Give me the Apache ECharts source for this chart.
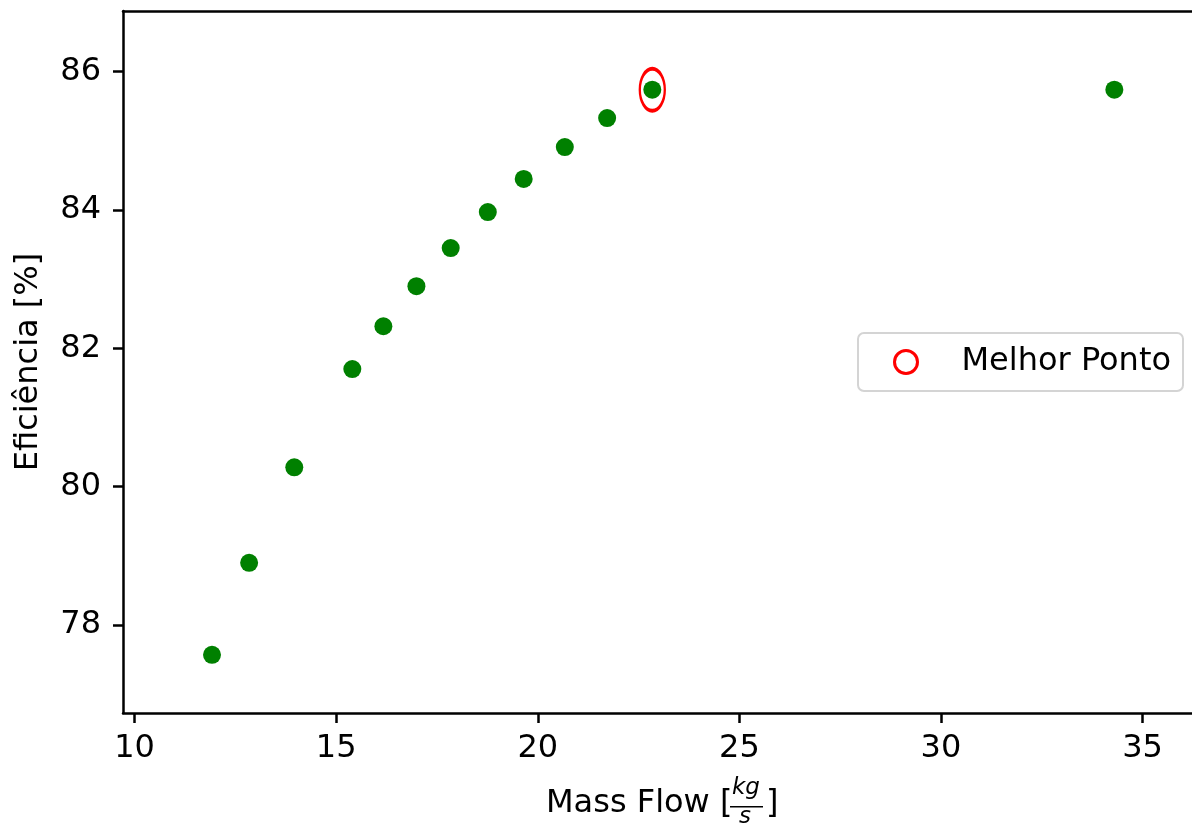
<!DOCTYPE html>
<html>
<head>
<meta charset="utf-8">
<script src="https://cdn.jsdelivr.net/npm/echarts@6/dist/echarts.min.js"></script>
<style>
html,body{margin:0;padding:0;background:#fff;}
#chart{width:1192px;height:824px;}
</style>
</head>
<body>
<div id="chart"></div>
<script>
// Data
var massFlow   = [11.92, 12.84, 13.96, 15.40, 16.17, 16.99, 17.84, 18.76, 19.65, 20.67, 21.72, 22.84, 34.30];
var efficiency = [77.57, 78.90, 80.28, 81.70, 82.32, 82.90, 83.45, 83.97, 84.45, 84.91, 85.33, 85.74, 85.74];
var bestPoint  = [22.84, 85.74];
var bestLabel  = 'Melhor Ponto';
var xTicks = [10, 15, 20, 25, 30, 35];
var yTicks = [78, 80, 82, 84, 86];
var xTitle = 'Mass Flow [';
var xTitleNum = 'kg';
var xTitleDen = 's';
var yTitle = 'Eficiência [%]';

var FONT = 'DejaVu Sans';
var FS = 32;

var points = massFlow.map(function (x, i) { return [x, efficiency[i]]; });

var chart = echarts.init(document.getElementById('chart'), null, {renderer: 'canvas'});

var axisLineStyle = {color: '#000', width: 2.5};

var option = {
  animation: false,
  backgroundColor: '#fff',
  grid: {left: 123, top: 11, right: 0, bottom: 111, containLabel: false},
  xAxis: [{
    type: 'value',
    min: 9.712, max: 36.226,
    position: 'bottom',
    axisLine: {show: true, onZero: false, lineStyle: axisLineStyle},
    axisTick: {show: true, length: 10, inside: false, lineStyle: axisLineStyle, customValues: xTicks},
    axisLabel: {show: true, margin: 20, color: '#000', fontFamily: FONT, fontSize: FS, customValues: xTicks},
    splitLine: {show: false}
  }, {
    type: 'value',
    min: 9.712, max: 36.226,
    position: 'top',
    axisLine: {show: true, onZero: false, lineStyle: axisLineStyle},
    axisTick: {show: false},
    axisLabel: {show: false},
    splitLine: {show: false}
  }],
  yAxis: {
    type: 'value',
    min: 76.728, max: 86.878,
    name: yTitle,
    nameLocation: 'middle',
    nameRotate: 90,
    nameGap: 78,
    nameTextStyle: {color: '#000', fontFamily: FONT, fontSize: FS},
    axisLine: {show: true, onZero: false, lineStyle: axisLineStyle},
    axisTick: {show: true, length: 10, inside: false, lineStyle: axisLineStyle, customValues: yTicks},
    axisLabel: {show: true, margin: 22, color: '#000', fontFamily: FONT, fontSize: FS, customValues: yTicks},
    splitLine: {show: false}
  },
  legend: {
    show: true,
    left: 858, top: 333,
    orient: 'vertical',
    padding: [13, 12, 13, 35],
    itemWidth: 23, itemHeight: 23,
    backgroundColor: '#fff',
    borderColor: '#d4d4d4', borderWidth: 2, borderRadius: 6,
    data: [{name: bestLabel, icon: 'circle', itemStyle: {color: 'rgba(0,0,0,0)', borderColor: '#ff0000', borderWidth: 3}}],
    formatter: function (n) { return '{a|' + n + '}'; },
    textStyle: {
      color: '#000', fontFamily: FONT, fontSize: FS,
      rich: {a: {color: '#000', fontFamily: FONT, fontSize: FS, padding: [0, 0, 0, 39]}}
    }
  },
  series: [{
    name: 'data',
    type: 'scatter',
    symbol: 'circle',
    symbolSize: 18,
    itemStyle: {color: '#008000', opacity: 1},
    data: points,
    z: 2
  }, {
    name: bestLabel,
    type: 'scatter',
    symbol: 'circle',
    symbolSize: [25, 42],
    itemStyle: {color: 'rgba(0,0,0,0)', borderColor: '#ff0000', borderWidth: 3, opacity: 1},
    data: [bestPoint],
    z: 3
  }],
  graphic: [{
    type: 'text', left: 546, top: 788,
    style: {text: xTitle, fill: '#000', font: FS + 'px "' + FONT + '"'}
  }, {
    type: 'text', left: 732, top: 777,
    style: {text: xTitleNum, fill: '#000', font: 'italic 23px "' + FONT + '"'}
  }, {
    type: 'rect', left: 730, top: 806,
    shape: {width: 33, height: 1.6},
    style: {fill: '#000'}
  }, {
    type: 'text', left: 739, top: 806,
    style: {text: xTitleDen, fill: '#000', font: 'italic 23px "' + FONT + '"'}
  }, {
    type: 'text', left: 766, top: 788,
    style: {text: ']', fill: '#000', font: FS + 'px "' + FONT + '"'}
  }]
};

chart.setOption(option);
</script>
</body>
</html>
